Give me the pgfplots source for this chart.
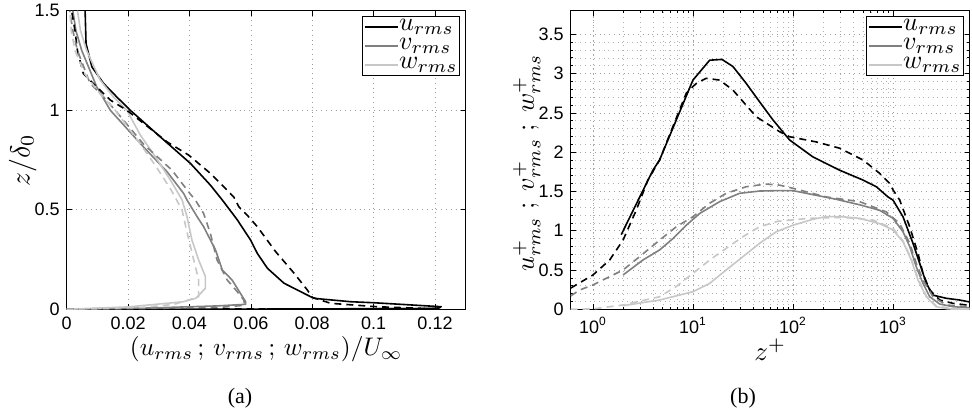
\documentclass[border=0pt]{standalone}
\usepackage[no-math]{fontspec}
\setmainfont{Liberation Sans}
\newfontfamily\capfont{Liberation Serif}
\usepackage{graphicx}
\usepackage{pgfplots}
\pgfplotsset{compat=1.18}
\definecolor{mgray}{gray}{0.5}
\definecolor{lgray}{gray}{0.78}
\newcommand{\legsc}[1]{\scalebox{1.3}{#1}}
\pgfplotsset{
  myax/.style={
    scale only axis, width=199.5pt, height=149.3pt,
    axis line style={line width=0.55pt},
    tick style={black, line width=0.35pt},
    major tick length=2.5pt, minor tick length=1.3pt,
    tick align=inside,
    /pgf/number format/assume math mode=true,
    ticklabel style={font=\fontsize{9}{9}\selectfont},
    xticklabel style={yshift=-0.5pt},
    grid style={dotted, gray!75, line width=0.35pt},
    every axis x label/.style={at={(axis description cs:0.5,0)}, anchor=center, yshift=-20pt},
    every axis y label/.style={at={(axis description cs:0,0.5)}, xshift=-22pt, anchor=center, rotate=90},
    legend style={at={(1,1)}, anchor=north east, xshift=-3pt, yshift=-2.8pt,
      draw=black, line width=0.4pt, inner sep=0.6pt, row sep=0pt,
      nodes={text height=6.2pt, text depth=2.6pt, inner sep=0.3pt},
      fill=white},
    legend cell align=left,
    legend image code/.code={\draw[#1, line width=0.85pt] (0pt,0pt) -- (16.5pt,0pt);},
    every axis plot/.append style={line width=0.8pt, line join=round},
    dsh/.style={dash pattern=on 3.5pt off 2.5pt},
  }
}
\begin{document}
\begin{tikzpicture}
\useasboundingbox (0,0) rectangle (486pt,208.5pt);
% ---------------- (a)
\begin{axis}[myax, at={(33.35pt,53.85pt)}, anchor=south west,
  xmin=0, xmax=0.13, ymin=0, ymax=1.5,
  xtick={0,0.02,0.04,0.06,0.08,0.1,0.12},
  xticklabels={0,0.02,0.04,0.06,0.08,0.1,0.12},
  ytick={0,0.5,1,1.5}, yticklabels={0,0.5,1,1.5},
  grid=major,
  xlabel={\scalebox{1.27}{$(u_{rms}\,;\,v_{rms}\,;\,w_{rms})/U_\infty$}},
  ylabel={\scalebox{1.38}{$z/\delta_0$}}]
\addplot[black] coordinates {(0,0) (0.06,0.001) (0.121,0.004) (0.122,0.013) (0.100,0.033) (0.0926,0.038) (0.0806,0.055) (0.0795,0.063) (0.0708,0.131) (0.0654,0.206) (0.0621,0.281) (0.0599,0.348) (0.0556,0.449) (0.0507,0.549) (0.0468,0.624) (0.0403,0.733) (0.0305,0.866) (0.0207,1.0) (0.0163,1.067) (0.012,1.135) (0.0082,1.218) (0.0063,1.335) (0.006,1.5)};
\addlegendentry{\legsc{$u_{rms}$}}
\addplot[mgray] coordinates {(0,0) (0.03,0.008) (0.049,0.017) (0.0583,0.025) (0.0583,0.038) (0.0566,0.080) (0.0539,0.147) (0.0507,0.197) (0.0485,0.298) (0.0446,0.415) (0.0425,0.465) (0.0392,0.549) (0.0381,0.582) (0.0327,0.691) (0.025,0.816) (0.0142,1.0) (0.0098,1.117) (0.0049,1.30) (0.003,1.4) (0.002,1.5)};
\addlegendentry{\legsc{$v_{rms}$}}
\addplot[lgray] coordinates {(0,0) (0.02,0.012) (0.038,0.038) (0.042,0.055) (0.0452,0.105) (0.0452,0.164) (0.043,0.247) (0.0408,0.348) (0.0392,0.465) (0.0376,0.549) (0.0338,0.649) (0.0289,0.766) (0.024,0.875) (0.0196,1.0) (0.0152,1.067) (0.0109,1.152) (0.0065,1.30) (0.0045,1.4) (0.0035,1.5)};
\addlegendentry{\legsc{$w_{rms}$}}
\addplot[black, dsh, forget plot] coordinates {(0,0) (0.119,0.003) (0.101,0.013) (0.086,0.03) (0.080,0.06) (0.0784,0.097) (0.0741,0.181) (0.0681,0.289) (0.0621,0.415) (0.0588,0.473) (0.0561,0.515) (0.0544,0.565) (0.0468,0.683) (0.0397,0.775) (0.0327,0.841) (0.0196,1.0) (0.0142,1.051) (0.0098,1.117) (0.0054,1.185) (0.0035,1.3) (0.0027,1.4) (0.0016,1.5)};
\addplot[mgray, dsh, forget plot] coordinates {(0,0) (0.03,0.005) (0.05,0.01) (0.058,0.02) (0.0577,0.047) (0.0556,0.088) (0.0523,0.147) (0.049,0.247) (0.0468,0.382) (0.0446,0.482) (0.0419,0.549) (0.0397,0.590) (0.0343,0.699) (0.025,0.83) (0.0158,1.0) (0.012,1.067) (0.0076,1.135) (0.0035,1.30) (0.002,1.4) (0.001,1.5)};
\addplot[lgray, dsh, forget plot] coordinates {(0,0) (0.025,0.01) (0.035,0.025) (0.043,0.063) (0.043,0.147) (0.0414,0.247) (0.039,0.4) (0.0376,0.498) (0.034,0.6) (0.029,0.72) (0.024,0.83) (0.0158,1.0) (0.011,1.08) (0.006,1.18) (0.0027,1.3) (0.0015,1.4) (0.001,1.5)};
\end{axis}
% ---------------- (b)
\begin{axis}[myax, at={(285.35pt,53.85pt)}, anchor=south west,
  xmode=log, xmin=0.6, xmax=5850, ymin=0, ymax=3.8,
  xtick={1,10,100,1000},
  xticklabels={10\textsuperscript{0},10\textsuperscript{1},10\textsuperscript{2},10\textsuperscript{3}},
  ytick={0,0.5,1,1.5,2,2.5,3,3.5}, yticklabels={0,0.5,1,1.5,2,2.5,3,3.5},
  minor y tick num=4,
  grid=both, minor grid style={dotted, gray!60, line width=0.3pt},
  every axis y label/.append style={xshift=-1.5pt},
  xlabel={\scalebox{1.35}{$z^+$}},
  ylabel={\scalebox{1.3}{$u^+_{rms}\ ;\ v^+_{rms}\ ;\ w^+_{rms}$}}]
\addplot[black] coordinates {(1.92,0.95) (3.98,1.77) (4.64,1.9) (10,2.917) (14.7,3.17) (19.5,3.18) (25.1,3.09) (34.1,2.875) (46.4,2.64) (63.1,2.41) (92.7,2.154) (158,1.94) (293,1.77) (501,1.645) (681,1.56) (891,1.43) (1000,1.39) (1259,1.178) (1585,0.84) (1849,0.585) (2153,0.33) (2512,0.18) (3412,0.14) (4645,0.118) (5623,0.097) (5850,0.095)};
\addlegendentry{\legsc{$u_{rms}$}}
\addplot[mgray] coordinates {(2,0.436) (3.16,0.627) (4.64,0.755) (6.31,0.9) (8.57,1.07) (11.7,1.22) (18.5,1.37) (29.3,1.476) (46.4,1.505) (68.1,1.51) (100,1.51) (271,1.40) (464,1.33) (736,1.26) (1000,1.158) (1259,0.987) (1469,0.8) (1710,0.54) (1995,0.33) (2328,0.16) (2931,0.067) (3981,0.033) (5850,0.02)};
\addlegendentry{\legsc{$v_{rms}$}}
\addplot[lgray] coordinates {(2,0.046) (4.64,0.118) (10,0.224) (14.7,0.33) (21.5,0.5) (31.6,0.67) (46.4,0.84) (68.1,0.987) (100,1.07) (158,1.145) (215,1.18) (300,1.18) (464,1.158) (736,1.09) (1000,1.01) (1259,0.86) (1524,0.627) (1778,0.373) (2153,0.16) (2710,0.033) (3548,0.005) (5850,0.0)};
\addlegendentry{\legsc{$w_{rms}$}}
\addplot[black, dsh, forget plot] coordinates {(0.6,0.27) (1,0.436) (1.47,0.627) (2,0.88) (2.71,1.26) (3.55,1.645) (4.64,1.9) (8.57,2.75) (10.8,2.875) (13.6,2.94) (18.5,2.917) (25.1,2.79) (43,2.45) (73.6,2.26) (92.7,2.196) (171,2.13) (293,2.05) (501,1.9) (736,1.73) (927,1.6) (1000,1.52) (1167,1.39) (1469,1.05) (1778,0.71) (1995,0.458) (2328,0.245) (2931,0.118) (3981,0.076) (5408,0.055) (5850,0.05)};
\addplot[mgray, dsh, forget plot] coordinates {(0.6,0.17) (0.736,0.245) (1,0.31) (1.47,0.415) (2,0.5) (2.93,0.67) (4.64,0.88) (6.81,1.05) (10,1.178) (14.7,1.35) (21.5,1.476) (34.1,1.56) (54.1,1.594) (73.6,1.58) (100,1.54) (215,1.43) (464,1.37) (857,1.24) (1167,1.09) (1469,0.84) (1710,0.585) (1995,0.373) (2512,0.16) (3412,0.055) (5850,0.03)};
\addplot[lgray, dsh, forget plot] coordinates {(0.6,0.0) (1,0.005) (2,0.055) (4.64,0.16) (6.81,0.29) (10,0.458) (14.7,0.627) (21.5,0.776) (31.6,0.924) (46.4,1.05) (70.8,1.12) (147,1.158) (316,1.17) (631,1.136) (1000,1.03) (1259,0.87) (1524,0.64) (1778,0.39) (2153,0.17) (2710,0.04) (3981,0.01) (5850,0.005)};
\end{axis}
\node[font=\capfont\fontsize{11}{12}\selectfont] at (120pt,9.5pt) {(a)};
\node[font=\capfont\fontsize{11}{12}\selectfont] at (371.5pt,9.5pt) {(b)};
\end{tikzpicture}
\end{document}
